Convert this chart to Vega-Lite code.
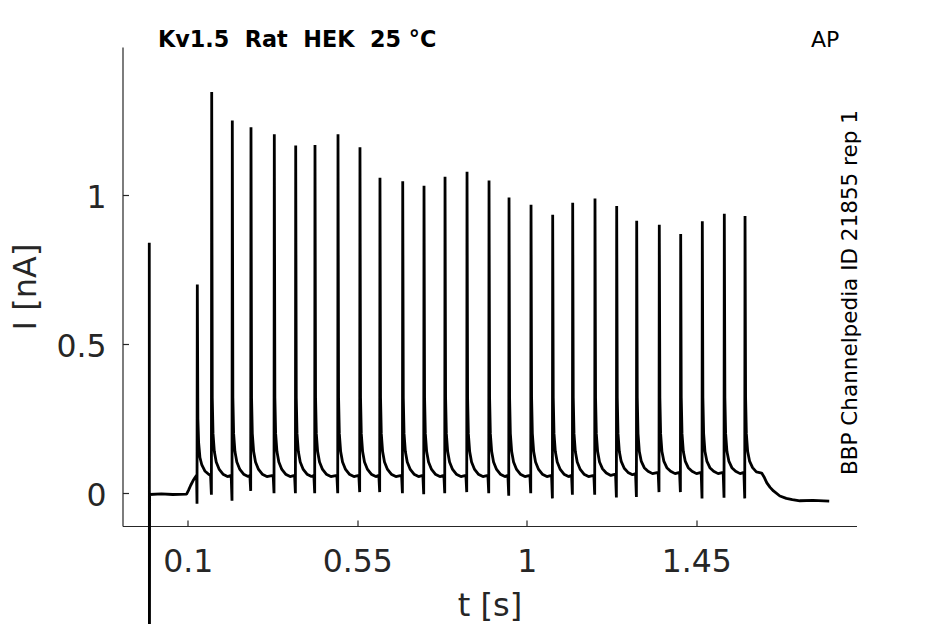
{
  "$schema": "https://vega.github.io/schema/vega-lite/v6.json",
  "width": 734,
  "height": 479,
  "autosize": {"type": "none"},
  "padding": {"left": 122.5, "top": 47, "right": 88.5, "bottom": 98},
  "data": {
    "values": [
      {"t": -0.002, "i": 0.84}, {"t": -0.0016, "i": -0.75}, {"t": -0.0012, "i": -0.004},
      {"t": 0.03, "i": -0.002}, {"t": 0.06, "i": -0.004}, {"t": 0.097, "i": -0.003},
      {"t": 0.102, "i": 0.01}, {"t": 0.108, "i": 0.027}, {"t": 0.114, "i": 0.042},
      {"t": 0.119, "i": 0.052}, {"t": 0.1235, "i": 0.06},
      {"t": 0.1247, "i": -0.035}, {"t": 0.1255, "i": 0.70}, {"t": 0.127, "i": 0.25}, {"t": 0.129, "i": 0.17},
      {"t": 0.1325, "i": 0.12}, {"t": 0.1375, "i": 0.095}, {"t": 0.1455, "i": 0.075}, {"t": 0.1555, "i": 0.064},
      {"t": 0.1607, "i": 0.06}, {"t": 0.1629, "i": -0.005}, {"t": 0.1637, "i": 1.345}, {"t": 0.1652, "i": 0.32},
      {"t": 0.1672, "i": 0.2}, {"t": 0.1707, "i": 0.14}, {"t": 0.1757, "i": 0.105}, {"t": 0.1837, "i": 0.08},
      {"t": 0.1937, "i": 0.064}, {"t": 0.2057, "i": 0.056},
      {"t": 0.2154, "i": 0.06}, {"t": 0.2176, "i": -0.025}, {"t": 0.2184, "i": 1.25}, {"t": 0.2199, "i": 0.32},
      {"t": 0.2219, "i": 0.2}, {"t": 0.2254, "i": 0.14}, {"t": 0.2304, "i": 0.105}, {"t": 0.2384, "i": 0.08},
      {"t": 0.2484, "i": 0.064}, {"t": 0.2604, "i": 0.056},
      {"t": 0.265, "i": 0.06}, {"t": 0.2672, "i": 0.008}, {"t": 0.268, "i": 1.227}, {"t": 0.2695, "i": 0.32},
      {"t": 0.2715, "i": 0.2}, {"t": 0.275, "i": 0.14}, {"t": 0.28, "i": 0.105}, {"t": 0.288, "i": 0.08},
      {"t": 0.298, "i": 0.064}, {"t": 0.31, "i": 0.056},
      {"t": 0.3269, "i": 0.06}, {"t": 0.3291, "i": 0.0}, {"t": 0.3299, "i": 1.204}, {"t": 0.3314, "i": 0.32},
      {"t": 0.3334, "i": 0.2}, {"t": 0.3369, "i": 0.14}, {"t": 0.3419, "i": 0.105}, {"t": 0.3499, "i": 0.08},
      {"t": 0.3599, "i": 0.064}, {"t": 0.3719, "i": 0.056},
      {"t": 0.3837, "i": 0.06}, {"t": 0.3859, "i": 0.0}, {"t": 0.3867, "i": 1.166}, {"t": 0.3882, "i": 0.32},
      {"t": 0.3902, "i": 0.2}, {"t": 0.3937, "i": 0.14}, {"t": 0.3987, "i": 0.105}, {"t": 0.4067, "i": 0.08},
      {"t": 0.4167, "i": 0.064}, {"t": 0.4287, "i": 0.056},
      {"t": 0.4349, "i": 0.06}, {"t": 0.4371, "i": 0.0}, {"t": 0.4379, "i": 1.168}, {"t": 0.4394, "i": 0.32},
      {"t": 0.4414, "i": 0.2}, {"t": 0.4449, "i": 0.14}, {"t": 0.4499, "i": 0.105}, {"t": 0.4579, "i": 0.08},
      {"t": 0.4679, "i": 0.064}, {"t": 0.4799, "i": 0.056},
      {"t": 0.496, "i": 0.06}, {"t": 0.4982, "i": 0.0}, {"t": 0.499, "i": 1.204}, {"t": 0.5005, "i": 0.32},
      {"t": 0.5025, "i": 0.2}, {"t": 0.506, "i": 0.14}, {"t": 0.511, "i": 0.105}, {"t": 0.519, "i": 0.08},
      {"t": 0.529, "i": 0.064}, {"t": 0.541, "i": 0.056},
      {"t": 0.5543, "i": 0.06}, {"t": 0.5565, "i": 0.004}, {"t": 0.5573, "i": 1.16}, {"t": 0.5588, "i": 0.32},
      {"t": 0.5608, "i": 0.2}, {"t": 0.5643, "i": 0.14}, {"t": 0.5693, "i": 0.105}, {"t": 0.5773, "i": 0.08},
      {"t": 0.5873, "i": 0.064}, {"t": 0.5993, "i": 0.056},
      {"t": 0.6074, "i": 0.06}, {"t": 0.6096, "i": 0.004}, {"t": 0.6104, "i": 1.058}, {"t": 0.6119, "i": 0.32},
      {"t": 0.6139, "i": 0.2}, {"t": 0.6174, "i": 0.14}, {"t": 0.6224, "i": 0.105}, {"t": 0.6304, "i": 0.08},
      {"t": 0.6404, "i": 0.064}, {"t": 0.6524, "i": 0.056},
      {"t": 0.6678, "i": 0.06}, {"t": 0.67, "i": 0.0}, {"t": 0.6708, "i": 1.046}, {"t": 0.6723, "i": 0.32},
      {"t": 0.6743, "i": 0.2}, {"t": 0.6778, "i": 0.14}, {"t": 0.6828, "i": 0.105}, {"t": 0.6908, "i": 0.08},
      {"t": 0.7008, "i": 0.064}, {"t": 0.7128, "i": 0.056},
      {"t": 0.7243, "i": 0.06}, {"t": 0.7265, "i": -0.003}, {"t": 0.7273, "i": 1.031}, {"t": 0.7288, "i": 0.32},
      {"t": 0.7308, "i": 0.2}, {"t": 0.7343, "i": 0.14}, {"t": 0.7393, "i": 0.105}, {"t": 0.7473, "i": 0.08},
      {"t": 0.7573, "i": 0.064}, {"t": 0.7693, "i": 0.056},
      {"t": 0.7801, "i": 0.06}, {"t": 0.7823, "i": 0.0}, {"t": 0.7831, "i": 1.061}, {"t": 0.7846, "i": 0.32},
      {"t": 0.7866, "i": 0.2}, {"t": 0.7901, "i": 0.14}, {"t": 0.7951, "i": 0.105}, {"t": 0.8031, "i": 0.08},
      {"t": 0.8131, "i": 0.064}, {"t": 0.8251, "i": 0.056},
      {"t": 0.8385, "i": 0.06}, {"t": 0.8407, "i": 0.004}, {"t": 0.8415, "i": 1.078}, {"t": 0.843, "i": 0.32},
      {"t": 0.845, "i": 0.2}, {"t": 0.8485, "i": 0.14}, {"t": 0.8535, "i": 0.105}, {"t": 0.8615, "i": 0.08},
      {"t": 0.8715, "i": 0.064}, {"t": 0.8835, "i": 0.056},
      {"t": 0.8969, "i": 0.06}, {"t": 0.8991, "i": 0.0}, {"t": 0.8999, "i": 1.049}, {"t": 0.9014, "i": 0.32},
      {"t": 0.9034, "i": 0.2}, {"t": 0.9069, "i": 0.14}, {"t": 0.9119, "i": 0.105}, {"t": 0.9199, "i": 0.08},
      {"t": 0.9299, "i": 0.064}, {"t": 0.9419, "i": 0.056},
      {"t": 0.95, "i": 0.06}, {"t": 0.9522, "i": -0.008}, {"t": 0.953, "i": 0.992}, {"t": 0.9545, "i": 0.32},
      {"t": 0.9565, "i": 0.2}, {"t": 0.96, "i": 0.14}, {"t": 0.965, "i": 0.105}, {"t": 0.973, "i": 0.08},
      {"t": 0.983, "i": 0.064}, {"t": 0.995, "i": 0.056},
      {"t": 1.0084, "i": 0.06}, {"t": 1.0106, "i": 0.0}, {"t": 1.0114, "i": 0.967}, {"t": 1.0129, "i": 0.32},
      {"t": 1.0149, "i": 0.2}, {"t": 1.0184, "i": 0.14}, {"t": 1.0234, "i": 0.105}, {"t": 1.0314, "i": 0.08},
      {"t": 1.0414, "i": 0.064}, {"t": 1.0534, "i": 0.056},
      {"t": 1.0659, "i": 0.06}, {"t": 1.0681, "i": -0.017}, {"t": 1.0689, "i": 0.934}, {"t": 1.0704, "i": 0.32},
      {"t": 1.0724, "i": 0.2}, {"t": 1.0759, "i": 0.14}, {"t": 1.0809, "i": 0.105}, {"t": 1.0889, "i": 0.08},
      {"t": 1.0989, "i": 0.064}, {"t": 1.1109, "i": 0.056},
      {"t": 1.119, "i": 0.06}, {"t": 1.1212, "i": -0.005}, {"t": 1.122, "i": 0.974}, {"t": 1.1235, "i": 0.32},
      {"t": 1.1255, "i": 0.2}, {"t": 1.129, "i": 0.14}, {"t": 1.134, "i": 0.105}, {"t": 1.142, "i": 0.08},
      {"t": 1.152, "i": 0.064}, {"t": 1.164, "i": 0.056},
      {"t": 1.1782, "i": 0.06}, {"t": 1.1804, "i": -0.005}, {"t": 1.1812, "i": 0.988}, {"t": 1.1827, "i": 0.32},
      {"t": 1.1847, "i": 0.2}, {"t": 1.1882, "i": 0.14}, {"t": 1.1932, "i": 0.105}, {"t": 1.2012, "i": 0.082},
      {"t": 1.2112, "i": 0.068}, {"t": 1.2232, "i": 0.06},
      {"t": 1.2358, "i": 0.064}, {"t": 1.238, "i": -0.014}, {"t": 1.2388, "i": 0.963}, {"t": 1.2403, "i": 0.32},
      {"t": 1.2423, "i": 0.2}, {"t": 1.2458, "i": 0.14}, {"t": 1.2508, "i": 0.107}, {"t": 1.2588, "i": 0.084},
      {"t": 1.2688, "i": 0.07}, {"t": 1.2808, "i": 0.062},
      {"t": 1.2889, "i": 0.066}, {"t": 1.2911, "i": -0.012}, {"t": 1.2919, "i": 0.914}, {"t": 1.2934, "i": 0.32},
      {"t": 1.2954, "i": 0.2}, {"t": 1.2989, "i": 0.14}, {"t": 1.3039, "i": 0.108}, {"t": 1.3119, "i": 0.086},
      {"t": 1.3219, "i": 0.074}, {"t": 1.3339, "i": 0.066},
      {"t": 1.3489, "i": 0.07}, {"t": 1.3511, "i": 0.004}, {"t": 1.3519, "i": 0.9}, {"t": 1.3534, "i": 0.32},
      {"t": 1.3554, "i": 0.2}, {"t": 1.3589, "i": 0.14}, {"t": 1.3639, "i": 0.108}, {"t": 1.3719, "i": 0.086},
      {"t": 1.3819, "i": 0.074}, {"t": 1.3939, "i": 0.066},
      {"t": 1.4057, "i": 0.07}, {"t": 1.4079, "i": 0.004}, {"t": 1.4087, "i": 0.869}, {"t": 1.4102, "i": 0.32},
      {"t": 1.4122, "i": 0.2}, {"t": 1.4157, "i": 0.14}, {"t": 1.4207, "i": 0.108}, {"t": 1.4287, "i": 0.086},
      {"t": 1.4387, "i": 0.074}, {"t": 1.4507, "i": 0.066},
      {"t": 1.4631, "i": 0.07}, {"t": 1.4653, "i": -0.017}, {"t": 1.4661, "i": 0.912}, {"t": 1.4676, "i": 0.32},
      {"t": 1.4696, "i": 0.2}, {"t": 1.4731, "i": 0.14}, {"t": 1.4781, "i": 0.108}, {"t": 1.4861, "i": 0.086},
      {"t": 1.4961, "i": 0.074}, {"t": 1.5081, "i": 0.066},
      {"t": 1.5215, "i": 0.07}, {"t": 1.5237, "i": -0.015}, {"t": 1.5245, "i": 0.937}, {"t": 1.526, "i": 0.32},
      {"t": 1.528, "i": 0.2}, {"t": 1.5315, "i": 0.14}, {"t": 1.5365, "i": 0.108}, {"t": 1.5445, "i": 0.086},
      {"t": 1.5545, "i": 0.074}, {"t": 1.5665, "i": 0.066},
      {"t": 1.5765, "i": 0.07}, {"t": 1.5787, "i": -0.017}, {"t": 1.5795, "i": 0.93}, {"t": 1.581, "i": 0.32},
      {"t": 1.583, "i": 0.2}, {"t": 1.5865, "i": 0.14}, {"t": 1.5915, "i": 0.108}, {"t": 1.5995, "i": 0.086},
      {"t": 1.6095, "i": 0.072}, {"t": 1.6237, "i": 0.068},
      {"t": 1.63, "i": 0.055}, {"t": 1.637, "i": 0.036}, {"t": 1.646, "i": 0.02}, {"t": 1.655, "i": 0.008},
      {"t": 1.672, "i": -0.009}, {"t": 1.689, "i": -0.017}, {"t": 1.705, "i": -0.021}, {"t": 1.725, "i": -0.025},
      {"t": 1.76, "i": -0.024}, {"t": 1.803, "i": -0.026}
    ]
  },
  "layer": [
    {
      "mark": {"type": "line", "color": "#000000", "strokeWidth": 2.8, "strokeJoin": "bevel", "clip": false},
      "encoding": {
        "x": {
          "field": "t",
          "type": "quantitative",
          "scale": {"domain": [-0.0731, 1.8754], "nice": false, "zero": false},
          "axis": {
            "title": "t [s]",
            "values": [0.1, 0.55, 1, 1.45],
            "labelExpr": "'' + datum.value",
            "tickSize": -6,
            "labelPadding": 26.6,
            "titlePadding": 12.7
          }
        },
        "y": {
          "field": "i",
          "type": "quantitative",
          "scale": {"domain": [-0.1096, 1.4962], "nice": false, "zero": false},
          "axis": {
            "title": "I [nA]",
            "values": [0, 0.5, 1],
            "labelExpr": "'' + datum.value",
            "tickSize": -6,
            "labelPadding": 22.5,
            "labelOffset": 3.5,
            "titlePadding": 13
          }
        }
      }
    },
    {
      "data": {"values": [{}]},
      "mark": {"type": "text", "text": "Kv1.5\u00a0 Rat\u00a0 HEK\u00a0 25 °C", "align": "left", "baseline": "alphabetic", "font": "DejaVu Sans", "fontSize": 22.3, "fontWeight": "bold", "color": "#000000"},
      "encoding": {
        "x": {"datum": 0.0212, "type": "quantitative"},
        "y": {"datum": 1.497, "type": "quantitative"}
      }
    },
    {
      "data": {"values": [{}]},
      "mark": {"type": "text", "text": "AP", "align": "left", "baseline": "alphabetic", "font": "DejaVu Sans", "fontSize": 22, "color": "#000000"},
      "encoding": {
        "x": {"datum": 1.7546, "type": "quantitative"},
        "y": {"datum": 1.497, "type": "quantitative"}
      }
    },
    {
      "data": {"values": [{}]},
      "mark": {"type": "text", "text": "BBP Channelpedia ID 21855 rep 1", "angle": 270, "align": "center", "baseline": "alphabetic", "font": "DejaVu Sans", "fontSize": 21.5, "color": "#000000"},
      "encoding": {
        "x": {"datum": 1.8754, "type": "quantitative"},
        "y": {"datum": 0.673, "type": "quantitative"}
      }
    }
  ],
  "config": {
    "view": {"stroke": null},
    "axis": {
      "grid": false,
      "domainColor": "#262626",
      "domainWidth": 1.2,
      "tickColor": "#262626",
      "tickWidth": 1.2,
      "labelColor": "#262626",
      "labelFont": "DejaVu Sans",
      "labelFontSize": 31.5,
      "titleColor": "#262626",
      "titleFont": "DejaVu Sans",
      "titleFontSize": 32,
      "titleFontWeight": "normal"
    }
  }
}
